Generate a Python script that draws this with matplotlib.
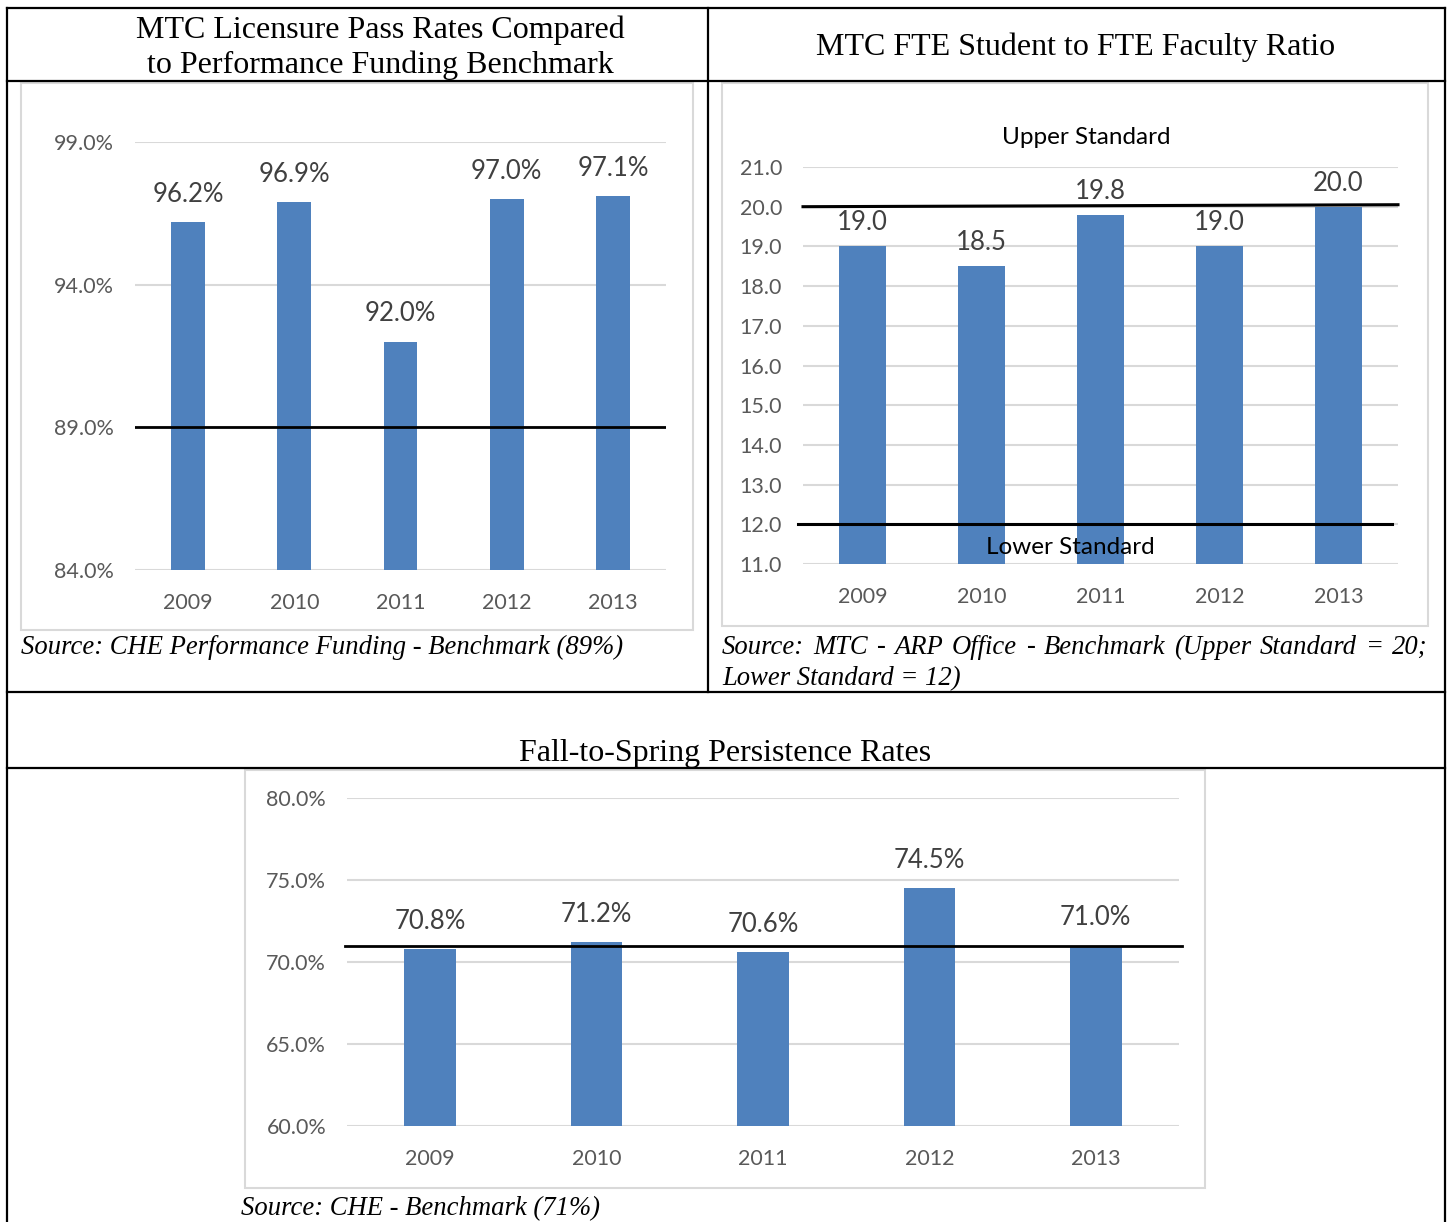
#!/usr/bin/env python3
"""
MTC performance charts: licensure pass rates, FTE ratio, persistence rates
"""
import matplotlib
matplotlib.use('Agg')
import matplotlib.pyplot as plt
from matplotlib.patches import Rectangle
from matplotlib.lines import Line2D

years = ['2009', '2010', '2011', '2012', '2013']

pass_rates = [96.2, 96.9, 92.0, 97.0, 97.1]
pass_benchmark = 89.0
pass_ticks = [84.0, 89.0, 94.0, 99.0]

fte_ratio = [19.0, 18.5, 19.8, 19.0, 20.0]
upper_standard = 20.0
lower_standard = 12.0
fte_ticks = [11.0, 12.0, 13.0, 14.0, 15.0, 16.0, 17.0, 18.0, 19.0, 20.0, 21.0]

persistence = [70.8, 71.2, 70.6, 74.5, 71.0]
persist_benchmark = 71.0
persist_ticks = [60.0, 65.0, 70.0, 75.0, 80.0]

W, H = 1447, 1222
BAR = '#4f81bd'
GRID = '#d9d9d9'
TICK = '#595959'
LABEL = '#404040'
SANS = ['Lato', 'DejaVu Sans']
SERIF = ['Liberation Serif', 'DejaVu Serif']
TITLE_FS = 23
SRC_FS = 19.2

plt.rcParams['font.family'] = SANS

fig = plt.figure(figsize=(W / 100, H / 100), dpi=100)


def px_axes(x0, y0, x1, y1):
    return fig.add_axes([x0 / W, 1 - y1 / H, (x1 - x0) / W, (y1 - y0) / H])


def fx(x):
    return x / W


def fy(y):
    return 1 - y / H


def bar_chart(ax, values, ticks, fmt, bottom, width, label_off):
    x = list(range(len(values)))
    heights = [v - bottom for v in values]
    ax.bar(x, heights, bottom=bottom, width=width, color=BAR, zorder=2)
    ax.set_xlim(-0.5, len(values) - 0.5)
    ax.set_ylim(ticks[0], ticks[-1])
    ax.set_yticks(ticks)
    ax.set_yticklabels([fmt.format(t) for t in ticks])
    ax.set_xticks(x)
    ax.set_xticklabels(years)
    ax.tick_params(axis='both', length=0, labelsize=15.5, colors=TICK)
    ax.tick_params(axis='x', pad=16.5)
    ax.tick_params(axis='y', pad=15)
    for s in ax.spines.values():
        s.set_visible(False)
    ax.grid(axis='y', color=GRID, lw=1.5, zorder=0)
    ax.set_axisbelow(True)
    for xi, v in zip(x, values):
        ax.annotate(fmt.format(v), (xi, v), xytext=(0, label_off),
                    textcoords='offset points', ha='center', va='center',
                    fontsize=18.5, color=LABEL)


# chart frames (light gray)
for (x0, y0, x1, y1) in [(21, 83, 693, 630), (722, 83, 1428, 626), (245, 770, 1205, 1188)]:
    fig.patches.append(Rectangle((fx(x0), fy(y1)), fx(x1 - x0), (y1 - y0) / H,
                                 transform=fig.transFigure, fill=False,
                                 edgecolor=GRID, lw=1.5))

# --- chart 1: licensure pass rates
ax1 = px_axes(135, 142, 666, 570)
bar_chart(ax1, pass_rates, pass_ticks, '{:.1f}%', pass_ticks[0], 0.32, 20)
ax1.axhline(pass_benchmark, color='black', lw=2, zorder=3)

# --- chart 2: FTE ratio
ax2 = px_axes(803, 167, 1398, 564)
bar_chart(ax2, fte_ratio, fte_ticks, '{:.1f}', fte_ticks[0], 0.4, 17)
ax2.plot([-0.5, 4.5], [upper_standard, upper_standard + 0.05], color='black', lw=2.2,
         zorder=3, clip_on=False)
ax2.plot([-0.54, 4.45], [lower_standard, lower_standard], color='black', lw=2.2,
         zorder=3, clip_on=False)
ax2.text(1.88, upper_standard + 1.75, 'Upper Standard', ha='center', va='center',
         fontsize=17.5, color='black')
ax2.text(1.75, lower_standard - 0.58, 'Lower Standard', ha='center', va='center',
         fontsize=17.5, color='black', zorder=4)

# --- chart 3: persistence
ax3 = px_axes(347, 798, 1179, 1126)
bar_chart(ax3, persistence, persist_ticks, '{:.1f}%', persist_ticks[0], 0.31, 20)
ax3.plot([-0.51, 4.52], [persist_benchmark, persist_benchmark], color='black', lw=2,
         zorder=3, clip_on=False)


# --- table lines
def hline(y, x0, x1):
    fig.lines.append(Line2D([fx(x0), fx(x1)], [fy(y), fy(y)], transform=fig.transFigure,
                            color='black', lw=1.6))


def vline(x, y0, y1):
    fig.lines.append(Line2D([fx(x), fx(x)], [fy(y0), fy(y1)], transform=fig.transFigure,
                            color='black', lw=1.6))


hline(8, 7, 1445)
hline(81, 7, 1445)
hline(692, 7, 1445)
hline(768, 7, 1445)
vline(7, 8, 1222)
vline(1445, 8, 1222)
vline(708, 8, 692)

# --- headers
fig.text(fx(380), fy(30), 'MTC Licensure Pass Rates Compared', ha='center', va='center',
         fontsize=TITLE_FS, family=SERIF)
fig.text(fx(380), fy(65), 'to Performance Funding Benchmark', ha='center', va='center',
         fontsize=TITLE_FS, family=SERIF)
fig.text(fx(1076), fy(47), 'MTC FTE Student to FTE Faculty Ratio', ha='center', va='center',
         fontsize=TITLE_FS, family=SERIF)
fig.text(fx(725), fy(753), 'Fall-to-Spring Persistence Rates', ha='center', va='center',
         fontsize=TITLE_FS, family=SERIF)

# --- sources
src_kw = dict(ha='left', va='center', fontsize=SRC_FS, style='italic', family=SERIF)
fig.text(fx(21), fy(647), 'Source: CHE Performance Funding - Benchmark (89%)', **src_kw)


def justified(line, x0, x1, y):
    # spread words so the line fills x0..x1, like the justified paragraph
    renderer = fig.canvas.get_renderer()
    words = line.split(' ')
    texts = [fig.text(0, fy(y), w, **src_kw) for w in words]
    widths = [t.get_window_extent(renderer).width for t in texts]
    gap = (x1 - x0 - sum(widths)) / (len(words) - 1)
    x = x0
    for t, w in zip(texts, widths):
        t.set_x(fx(x))
        x += w + gap


justified('Source: MTC - ARP Office - Benchmark (Upper Standard = 20;', 722, 1428, 647)
fig.text(fx(722), fy(679), 'Lower Standard = 12)', **src_kw)
fig.text(fx(241), fy(1209), 'Source: CHE - Benchmark (71%)', **src_kw)

fig.savefig('out.png', dpi=100)
